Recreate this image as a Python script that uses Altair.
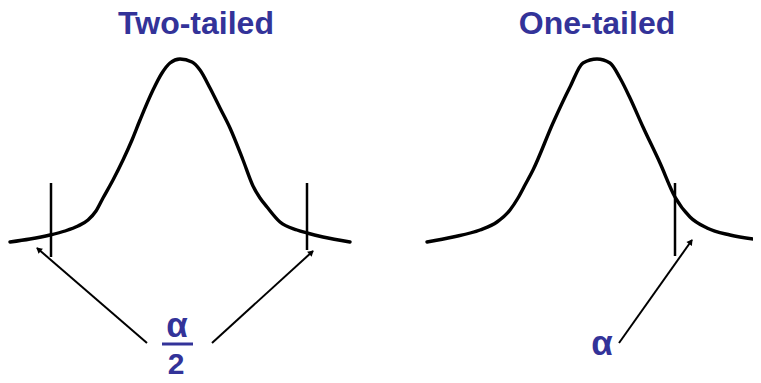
import math
import altair as alt
import pandas as pd

# Curve samples (screen-like coordinates: x right, y down)
two_x = [10, 30, 50, 65, 78, 88, 96, 103, 113, 123, 132, 140, 153, 162, 170, 180, 192, 200, 210, 220, 230, 243, 253, 260, 267, 280, 297, 307, 323, 350]
two_y = [242, 239, 235, 231, 226, 220, 211, 198, 180, 160, 140, 120, 90, 73, 63, 59, 62, 70, 88, 108, 128, 160, 186, 198, 207, 222, 230, 233, 237, 242]
one_x = [427, 453, 480, 497, 510, 518, 525, 533, 553, 570, 583, 597, 610, 620, 630, 643, 660, 675, 690, 707, 730, 760]
one_y = [242, 237, 230, 222, 210, 198, 185, 170, 123, 87, 63, 59, 63, 78, 98, 127, 163, 197, 217, 228, 235, 240]

# Critical-value markers
crit_x = [51, 307, 675]
crit_top = [183, 183, 183]
crit_bottom = [257, 250, 256]

# Arrows (from label toward tail)
arrow_x1 = [147, 212, 619]
arrow_y1 = [343, 343, 343]
arrow_x2 = [37, 313, 692]
arrow_y2 = [248, 251, 240]

titles = ["Two-tailed", "One-tailed"]
title_x = [196, 597]
title_y = [34, 34]

labels = ["α", "2", "α"]
label_x = [177, 176, 602]
label_y = [337, 374, 355]
label_size = [35, 30, 35]

frac_x1, frac_x2, frac_y = [162], [193], [344]

BLUE = "#333399"
W, H = 745, 367
xs = alt.Scale(domain=[8, 8 + W])
ys = alt.Scale(domain=[8, 8 + H], reverse=True)

curve_df = pd.DataFrame(
    {"x": two_x + one_x, "y": two_y + one_y,
     "panel": ["two"] * len(two_x) + ["one"] * len(one_x),
     "i": list(range(len(two_x))) + list(range(len(one_x)))}
)
crit_df = pd.DataFrame({"x": crit_x, "y": crit_top, "y2": crit_bottom})
arr_df = pd.DataFrame({"x": arrow_x1, "y": arrow_y1, "x2": arrow_x2, "y2": arrow_y2})
ang, hx, hy = [], [], []
for a, b, c, d in zip(arrow_x1, arrow_y1, arrow_x2, arrow_y2):
    dx, dy = c - a, d - b
    ang.append(math.degrees(math.atan2(dx, -dy)) % 360)
    L = math.hypot(dx, dy)
    hx.append(c - dx / L * 3)
    hy.append(d - dy / L * 3)
head_df = pd.DataFrame({"x": hx, "y": hy, "angle": ang})
title_df = pd.DataFrame({"t": titles, "x": title_x, "y": title_y})
label_df = pd.DataFrame({"t": labels, "x": label_x, "y": label_y, "s": label_size})
frac_df = pd.DataFrame({"x": frac_x1, "x2": frac_x2, "y": frac_y})

X = lambda f: alt.X(f, type="quantitative", scale=xs, axis=None)
Y = lambda f: alt.Y(f, type="quantitative", scale=ys, axis=None)

curves = alt.Chart(curve_df).mark_line(color="black", strokeWidth=3.4, interpolate="monotone",
                                       strokeCap="round", strokeJoin="round").encode(
    x=X("x"), y=Y("y"), detail="panel:N", order="i:Q"
)
crit = alt.Chart(crit_df).mark_rule(color="black", strokeWidth=2.5).encode(
    x=X("x"), y=Y("y"), y2="y2:Q"
)
arrows = alt.Chart(arr_df).mark_rule(color="black", strokeWidth=2).encode(
    x=X("x"), y=Y("y"), x2="x2:Q", y2="y2:Q"
)
heads = alt.Chart(head_df).mark_point(shape="triangle", filled=True, color="black", size=45, opacity=1).encode(
    x=X("x"), y=Y("y"), angle=alt.Angle("angle:Q", scale=None)
)
title_txt = alt.Chart(title_df).mark_text(
    font="Liberation Sans", fontWeight="bold", fontSize=32, color=BLUE, baseline="alphabetic", align="center"
).encode(x=X("x"), y=Y("y"), text="t:N")
label_txt = alt.Chart(label_df).mark_text(
    font="Liberation Sans", fontWeight="bold", color=BLUE, baseline="alphabetic", align="center"
).encode(x=X("x"), y=Y("y"), text="t:N", size=alt.Size("s:Q", scale=None, legend=None))
frac = alt.Chart(frac_df).mark_rule(color=BLUE, strokeWidth=3).encode(
    x=X("x"), x2="x2:Q", y=Y("y")
)

chart = alt.layer(curves, crit, arrows, heads, frac, title_txt, label_txt).properties(
    width=W, height=H, padding=0, autosize=alt.AutoSizeParams(type="none"), background="white"
).configure_view(stroke=None)

chart.save("out.html", embed_options={"renderer": "svg", "actions": False})
